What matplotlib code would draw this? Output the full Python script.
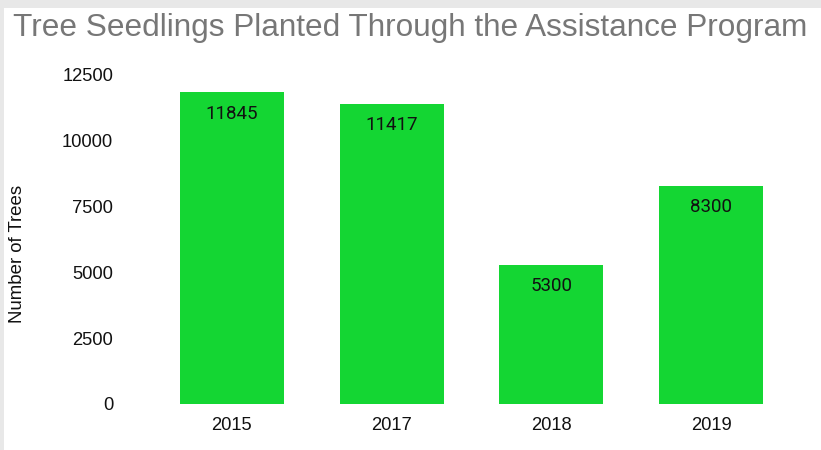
import matplotlib.pyplot as plt
from matplotlib.patches import Rectangle

plt.rcParams["font.family"] = ["Liberation Sans", "DejaVu Sans"]

years = ["2015", "2017", "2018", "2019"]
trees = [11845, 11417, 5300, 8300]
yticks = [0, 2500, 5000, 7500, 10000, 12500]

BAR_COLOR = "#14d633"

fig = plt.figure(figsize=(8.21, 4.5), dpi=100, facecolor="#e8e8e8")

# white card on the gray page background
fig.patches.append(
    Rectangle((4 / 821, 0), 1, 1 - 8 / 450, transform=fig.transFigure,
              facecolor="white", edgecolor="none", zorder=-5)
)

ax = fig.add_axes([152 / 821, 1 - 404 / 450, 639 / 821, 329 / 450])
ax.set_facecolor("none")
ax.set_zorder(2)

bars = ax.bar(years, trees, width=0.65, color=BAR_COLOR)
for bar, value in zip(bars, trees):
    ax.annotate(str(value), (bar.get_x() + bar.get_width() / 2, value),
                xytext=(0, -15.5), textcoords="offset points",
                ha="center", va="center", fontsize=13.5, color="#111111",
                family=["Roboto", "DejaVu Sans"])

ax.set_ylim(0, 12500)
ax.set_xlim(-0.5, len(years) - 0.5)
ax.set_yticks(yticks)
ax.tick_params(axis="both", length=0, labelsize=13.2, colors="#111111")
ax.tick_params(axis="y", pad=28)
ax.tick_params(axis="x", pad=9)
for side in ax.spines.values():
    side.set_visible(False)

fig.text(18 / 821, 1 - 254 / 450, "Number of Trees", rotation=90,
         ha="center", va="center", fontsize=13.4, color="#111111")
fig.text(0.5, 1 - 28 / 450, "Tree Seedlings Planted Through the Assistance Program",
         ha="center", va="center", fontsize=22.7, color="#777777")

fig.savefig("out.png", dpi=100, facecolor=fig.get_facecolor())
